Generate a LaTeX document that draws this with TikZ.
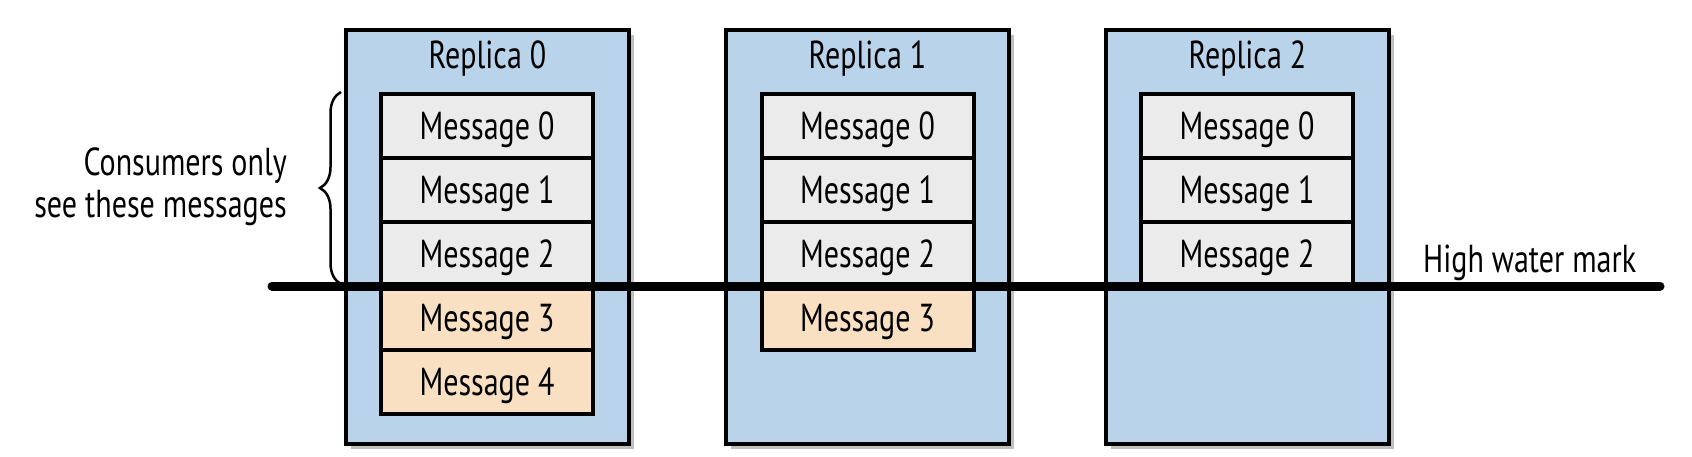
\documentclass[tikz,border=0pt]{standalone}
\usepackage{fontspec}
\setmainfont[FakeStretch=0.77]{PT Sans}
\usetikzlibrary{decorations.pathreplacing,shadows}
\definecolor{repblue}{HTML}{B8D3EA}
\definecolor{msggray}{HTML}{EBEBEB}
\definecolor{msgorange}{HTML}{FAE0C3}
\tikzset{
  every node/.style={font=\fontsize{39}{45}\selectfont},
  replica/.style={draw=black, line width=4.5pt, fill=repblue, minimum width=283pt, minimum height=414pt, inner sep=0pt,
    drop shadow={shadow xshift=5pt, shadow yshift=-5pt, opacity=0.25, fill=black}},
  msgbox/.style={draw=black, line width=4pt, minimum width=212pt, minimum height=64pt, inner sep=0pt, text height=26pt, text depth=0pt},
  oldmsg/.style={msgbox, fill=msggray},
  newmsg/.style={msgbox, fill=msgorange},
  title/.style={anchor=base, inner sep=0pt},
  label/.style={inner sep=0pt},
  hwm/.style={line width=9pt, line cap=round},
  bracestyle/.style={line width=2.5pt, decorate, decoration={brace, amplitude=21pt}}
}
\begin{document}
\begin{tikzpicture}[x=1pt,y=-1pt]
\useasboundingbox (0,0) rectangle (1692,456);
% replicas
\node[replica] (r0) at (487.5,237) {};
\node[replica] (r1) at (867.5,237) {};
\node[replica] (r2) at (1247.5,237) {};
\node[title] (t0) at (487.5,68) {Replica 0};
\node[title] (t1) at (867.5,68) {Replica 1};
\node[title] (t2) at (1247.5,68) {Replica 2};
% replica 0 messages
\node[oldmsg] (a0) at (487,126) {Message 0};
\node[oldmsg] (a1) at (487,190) {Message 1};
\node[oldmsg] (a2) at (487,254) {Message 2};
\node[newmsg] (a3) at (487,318) {Message 3};
\node[newmsg] (a4) at (487,382) {Message 4};
% replica 1 messages
\node[oldmsg] (b0) at (867.5,126) {Message 0};
\node[oldmsg] (b1) at (867.5,190) {Message 1};
\node[oldmsg] (b2) at (867.5,254) {Message 2};
\node[newmsg] (b3) at (867.5,318) {Message 3};
% replica 2 messages
\node[oldmsg] (c0) at (1247,126) {Message 0};
\node[oldmsg] (c1) at (1247,190) {Message 1};
\node[oldmsg] (c2) at (1247,254) {Message 2};
% brace
\coordinate (bt) at (341,92);
\coordinate (bb) at (341,284);
\draw[bracestyle] (bb) -- (bt);
\node[label, anchor=base east] (cons1) at (287,175) {Consumers only};
\node[label, anchor=base east] (cons2) at (287,217) {see these messages};
% high water mark
\coordinate (hwmL) at (272,286);
\coordinate (hwmR) at (1660,286);
\draw[hwm] (hwmL) -- (hwmR);
\node[label, anchor=base west] (hwmtext) at (1423,272) {High water mark};
\end{tikzpicture}
\end{document}
